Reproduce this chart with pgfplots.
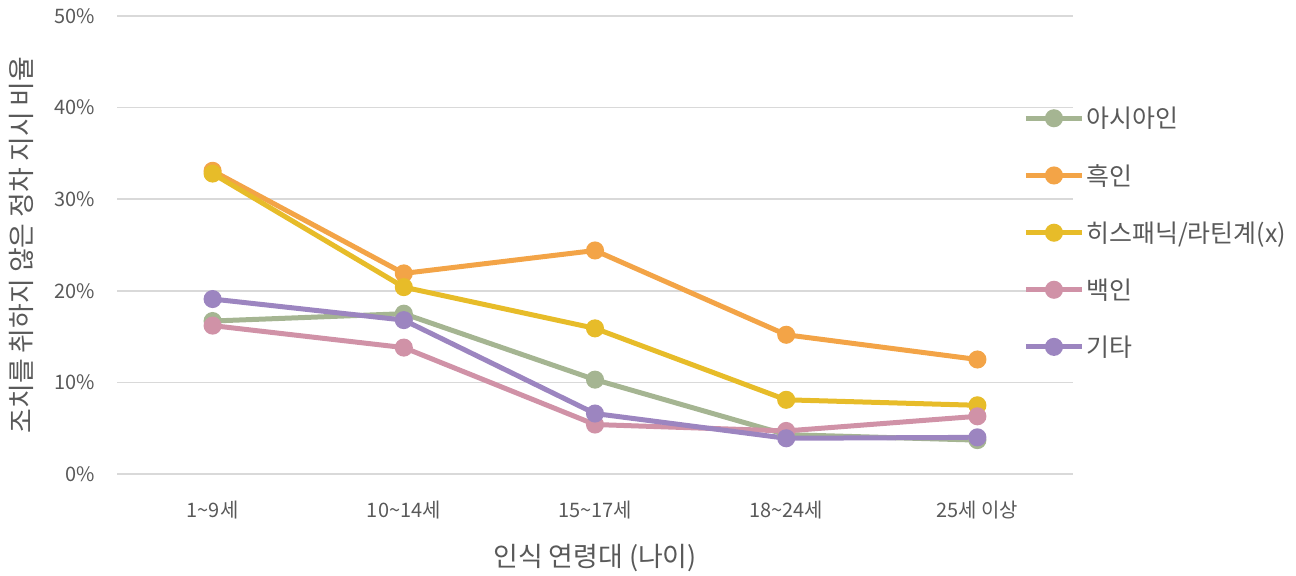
\documentclass[border=0pt]{standalone}
\usepackage{pgfplots}
\pgfplotsset{compat=1.18}
\usepackage{fontspec}
\setmainfont{Noto Sans CJK KR}
\definecolor{cgreen}{HTML}{A5B592}
\definecolor{corange}{HTML}{F3A447}
\definecolor{cyellow}{HTML}{E7BC29}
\definecolor{cpink}{HTML}{D092A7}
\definecolor{cpurple}{HTML}{9C85C0}
\definecolor{tgray}{HTML}{595959}
\definecolor{ggray}{HTML}{D9D9D9}
\begin{document}
\begin{tikzpicture}
\path[use as bounding box] (0,0) rectangle (1296bp,576bp);
\begin{axis}[
  at={(117bp,102bp)}, anchor=south west,
  width=956bp, height=458bp, scale only axis,
  xmin=-0.5, xmax=4.5, ymin=0, ymax=50,
  axis line style={draw=none},
  xtick={0,1,2,3,4},
  xticklabels={1\textasciitilde9세,10\textasciitilde14세,15\textasciitilde17세,18\textasciitilde24세,25세 이상},
  ytick={0,10,20,30,40,50},
  yticklabel={\pgfmathprintnumber{\tick}\%},
  /pgf/number format/assume math mode=true,
  major tick length=0pt,
  ymajorgrids, grid style={ggray, line width=1.5bp},
  tick label style={font=\fontsize{20}{24}\selectfont, text=tgray},
  xticklabel style={yshift=-24bp},
  yticklabel style={xshift=-19bp},
  xlabel={인식 연령대 (나이)},
  ylabel={조치를 취하지 않은 정차 지시 비율},
  label style={font=\fontsize{27}{32}\selectfont, text=tgray},
  xlabel style={yshift=-18bp},
  ylabel style={yshift=14bp},
  every axis plot/.append style={line width=5bp, mark=*, mark size=6.5bp},
  legend style={at={(0.948,0.81)}, anchor=north west, draw=none, fill=none,
    font=\fontsize{25}{30}\selectfont, text=tgray, row sep=31bp,
    legend cell align=left, inner xsep=0pt,
    /tikz/every even column/.append style={column sep=3bp}},
  legend image code/.code={\draw[mark repeat=2, mark phase=2, #1] plot coordinates {(0bp,0bp) (28bp,0bp) (56bp,0bp)};},
]
\addplot[color=cgreen, mark options={fill=cgreen, draw=cgreen}] coordinates {(0,16.7) (1,17.5) (2,10.3) (3,4.3) (4,3.7)};
\addlegendentry{아시아인}
\addplot[color=corange, mark options={fill=corange, draw=corange}] coordinates {(0,33.1) (1,21.9) (2,24.4) (3,15.2) (4,12.5)};
\addlegendentry{흑인}
\addplot[color=cyellow, mark options={fill=cyellow, draw=cyellow}] coordinates {(0,32.8) (1,20.4) (2,15.9) (3,8.1) (4,7.5)};
\addlegendentry{히스패닉/라틴계(x)}
\addplot[color=cpink, mark options={fill=cpink, draw=cpink}] coordinates {(0,16.2) (1,13.8) (2,5.4) (3,4.7) (4,6.3)};
\addlegendentry{백인}
\addplot[color=cpurple, mark options={fill=cpurple, draw=cpurple}] coordinates {(0,19.1) (1,16.8) (2,6.6) (3,3.9) (4,4.0)};
\addlegendentry{기타}
\end{axis}
\end{tikzpicture}
\end{document}
